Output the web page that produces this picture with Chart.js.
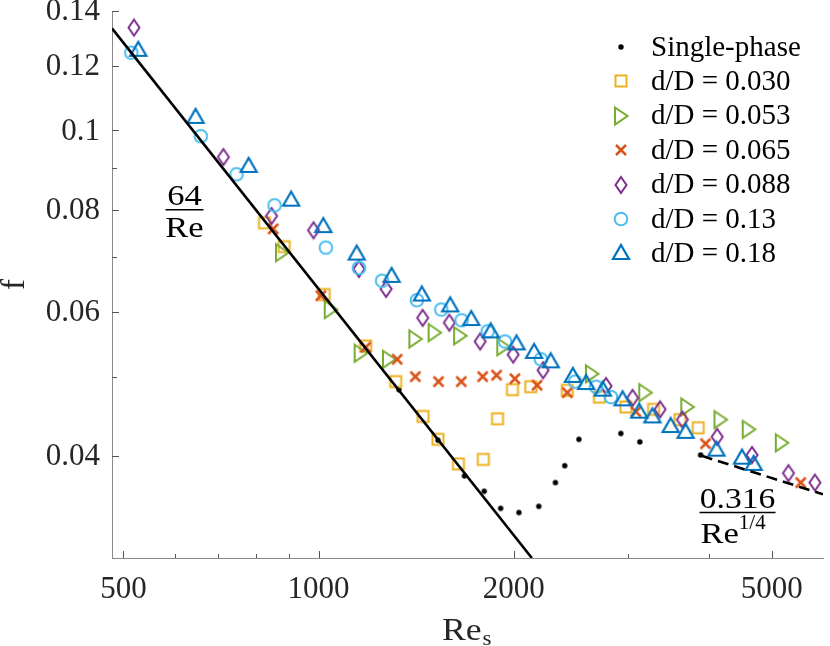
<!DOCTYPE html>
<html>
<head>
<meta charset="utf-8">
<script src="https://cdn.jsdelivr.net/npm/chart.js@4.4.1/dist/chart.umd.min.js"></script>
<style>
  html, body { margin: 0; padding: 0; background: #fff; }
  #wrap { width: 830px; height: 646px; }
</style>
</head>
<body>
<div id="wrap"><canvas id="fChart"></canvas></div>
<script>
// values (Re_s, f)
const singleRe = [1330, 1528, 1679, 1801, 1909, 2037, 2186, 2319, 2397, 2521, 2926, 3130, 3884];
const singleF  = [0.0482, 0.0418, 0.0378, 0.0362, 0.0345, 0.0341, 0.0347, 0.0371, 0.0389, 0.0419, 0.0426, 0.0416, 0.0401];

const d030Re = [825, 885, 1020, 1182, 1315, 1449, 1528, 1643, 1795, 1888, 1991, 2125, 2419, 2712, 2979, 3286, 3611, 3852];
const d030F  = [0.0771, 0.0721, 0.0630, 0.0545, 0.0493, 0.0447, 0.0419, 0.0391, 0.0396, 0.0444, 0.0482, 0.0486, 0.0481, 0.0472, 0.0459, 0.0456, 0.0443, 0.0433];

const d053Re = [878, 1044, 1161, 1284, 1410, 1510, 1653, 1927, 2640, 3191, 3705, 4168, 4608, 5183];
const d053F  = [0.0709, 0.0604, 0.0534, 0.0525, 0.0556, 0.0566, 0.0561, 0.0544, 0.0504, 0.0478, 0.0459, 0.0443, 0.0431, 0.0415];

const d065Re = [851, 1008, 1182, 1322, 1410, 1531, 1660, 1791, 1882, 2008, 2173, 2419, 3086, 3953, 5544];
const d065F  = [0.0758, 0.0628, 0.0543, 0.0525, 0.0500, 0.0493, 0.0493, 0.0500, 0.0502, 0.0497, 0.0488, 0.0478, 0.0453, 0.0414, 0.0371];

const d088Re = [519, 713, 846, 982, 1154, 1271, 1447, 1591, 1775, 1996, 2220, 2776, 3051, 3364, 3641, 4120, 4663, 5307, 5830];
const d088F  = [0.1336, 0.0928, 0.0786, 0.0755, 0.0677, 0.0640, 0.0590, 0.0582, 0.0552, 0.0532, 0.0509, 0.0487, 0.0471, 0.0456, 0.0443, 0.0422, 0.0401, 0.0381, 0.0371];

const d13Re = [514, 658, 747, 855, 1026, 1154, 1253, 1418, 1546, 1662, 1823, 1939, 2202, 2487, 2679, 2825];
const d13F  = [0.1245, 0.0984, 0.0884, 0.0810, 0.0719, 0.0679, 0.0655, 0.0620, 0.0604, 0.0586, 0.0568, 0.0552, 0.0525, 0.0493, 0.0486, 0.0472];

const d18Re = [527, 646, 780, 907, 1017, 1145, 1296, 1443, 1596, 1720, 1843, 2020, 2150, 2281, 2468, 2587, 2744, 2944, 3123, 3273, 3492, 3683, 4110, 4500, 4690];
const d18F  = [0.1255, 0.1039, 0.0905, 0.0823, 0.0764, 0.0707, 0.0664, 0.0630, 0.0611, 0.0588, 0.0568, 0.0549, 0.0536, 0.0522, 0.0501, 0.0491, 0.0482, 0.0469, 0.0453, 0.0447, 0.0435, 0.0428, 0.0407, 0.0398, 0.0391];

// reference lines, end points
const laminarRe = [480, 2133];
const laminarF  = [0.1333, 0.0300];
const blasiusRe = [3900, 6000];
const blasiusF  = [0.0400, 0.0359];

// axes
const xMajor = [500, 1000, 2000, 5000];
const xLabels = ['500', '1000', '2000', '5000'];
const xMinor = [600, 700, 800, 900, 3000, 4000];
const yMajor = [0.04, 0.06, 0.08, 0.1, 0.12, 0.14];
const yLabels = ['0.04', '0.06', '0.08', '0.1', '0.12', '0.14'];
const yMinor = [0.05, 0.07, 0.09];

const legendNames = ['Single-phase', 'd/D = 0.030', 'd/D = 0.053', 'd/D = 0.065', 'd/D = 0.088', 'd/D = 0.13', 'd/D = 0.18'];

// marker pictures (matlab style)
function marker(kind, color) {
  const c = document.createElement('canvas');
  c.width = 24; c.height = 24;
  const g = c.getContext('2d');
  const cx = 12, cy = 12;
  g.strokeStyle = color; g.fillStyle = color; g.lineWidth = 2;
  g.beginPath();
  if (kind === 'dot') {
    g.arc(cx, cy, 2.7, 0, Math.PI * 2); g.fill(); return c;
  }
  if (kind === 'square') g.rect(cx - 5.5, cy - 5.5, 11, 11);
  if (kind === 'right') { g.moveTo(cx - 6, cy - 8.5); g.lineTo(cx + 6.5, cy); g.lineTo(cx - 6, cy + 8.5); g.closePath(); }
  if (kind === 'cross') { g.lineWidth = 2.5; g.moveTo(cx - 5, cy - 5); g.lineTo(cx + 5, cy + 5); g.moveTo(cx + 5, cy - 5); g.lineTo(cx - 5, cy + 5); }
  if (kind === 'diamond') { g.moveTo(cx, cy - 8); g.lineTo(cx + 5.5, cy); g.lineTo(cx, cy + 8); g.lineTo(cx - 5.5, cy); g.closePath(); }
  if (kind === 'circle') g.arc(cx, cy, 6.3, 0, Math.PI * 2);
  if (kind === 'up') { g.lineWidth = 2.2; g.moveTo(cx, cy - 8); g.lineTo(cx + 8, cy + 6); g.lineTo(cx - 8, cy + 6); g.closePath(); }
  g.stroke();
  return c;
}

const markers = [
  marker('dot', '#000000'),
  marker('square', '#EDB120'),
  marker('right', '#77AC30'),
  marker('cross', '#D95319'),
  marker('diamond', '#7E2F8E'),
  marker('circle', '#4DBEEE'),
  marker('up', '#0072BD')
];

function pts(xs, ys) { return xs.map((v, i) => ({ x: v, y: ys[i] })); }

function serif(ctx, str, x, y, size, sx, align) {
  ctx.save();
  ctx.font = size + 'px "Liberation Serif", "Times New Roman", serif';
  ctx.translate(x, y);
  ctx.scale(sx, 1);
  ctx.textAlign = align || 'left';
  ctx.fillText(str, 0, 0);
  ctx.restore();
  ctx.font = size + 'px "Liberation Serif", serif';
  return ctx.measureText(str).width * sx;
}

const matlabAxes = {
  id: 'matlabAxes',
  afterDraw(chart) {
    const { ctx, chartArea: a, scales: { x, y } } = chart;
    ctx.save();
    // inward ticks
    ctx.strokeStyle = '#555';
    ctx.lineWidth = 1;
    ctx.beginPath();
    xMajor.forEach(v => { const p = Math.round(x.getPixelForValue(v)) + 0.5; ctx.moveTo(p, a.bottom); ctx.lineTo(p, a.bottom - 7); });
    xMinor.forEach(v => { const p = Math.round(x.getPixelForValue(v)) + 0.5; ctx.moveTo(p, a.bottom); ctx.lineTo(p, a.bottom - 4); });
    yMajor.forEach(v => { const p = Math.round(y.getPixelForValue(v)) + 0.5; ctx.moveTo(a.left, p); ctx.lineTo(a.left + 7, p); });
    yMinor.forEach(v => { const p = Math.round(y.getPixelForValue(v)) + 0.5; ctx.moveTo(a.left, p); ctx.lineTo(a.left + 5, p); });
    ctx.stroke();

    // tick labels
    ctx.fillStyle = '#262626';
    ctx.textBaseline = 'alphabetic';
    xMajor.forEach((v, i) => serif(ctx, xLabels[i], x.getPixelForValue(v), a.bottom + 40, 31, 1, 'center'));
    ctx.textBaseline = 'middle';
    yMajor.forEach((v, i) => serif(ctx, yLabels[i], a.left - 12, y.getPixelForValue(v) + 1, 31, 1, 'right'));

    // axis titles
    ctx.textBaseline = 'alphabetic';
    const w = serif(ctx, 'Re', 442, 640, 31, 1.15, 'left');
    serif(ctx, 's', 442 + w + 1, 645, 21, 1.1, 'left');
    ctx.save();
    ctx.translate(15, (a.top + a.bottom) / 2);
    ctx.rotate(-Math.PI / 2);
    ctx.textBaseline = 'middle';
    serif(ctx, 'f', 0, 0, 33, 1, 'center');
    ctx.restore();

    // 64/Re label
    ctx.fillStyle = '#000';
    ctx.strokeStyle = '#000';
    let fx = x.getPixelForValue(621), fy = y.getPixelForValue(0.080);
    serif(ctx, '64', fx, fy - 5, 30, 1.15, 'center');
    ctx.lineWidth = 1.6;
    ctx.beginPath(); ctx.moveTo(fx - 19, fy); ctx.lineTo(fx + 19, fy); ctx.stroke();
    serif(ctx, 'Re', fx, fy + 27, 30, 1.15, 'center');

    // 0.316/Re^(1/4) label
    fx = x.getPixelForValue(4429); fy = y.getPixelForValue(0.0341);
    serif(ctx, '0.316', fx, fy - 4.5, 30, 1.12, 'center');
    ctx.beginPath(); ctx.moveTo(fx - 38, fy); ctx.lineTo(fx + 38, fy); ctx.stroke();
    const rw = serif(ctx, 'Re', fx - 37, fy + 30, 30, 1.15, 'left');
    serif(ctx, '1/4', fx - 37 + rw, fy + 16, 20, 1.05, 'left');

    // legend
    ctx.fillStyle = '#000';
    ctx.textBaseline = 'middle';
    legendNames.forEach((name, i) => {
      const ry = a.top + 36 + i * 34.4;
      ctx.drawImage(markers[i], a.right - 214, Math.round(ry) - 12);
      serif(ctx, name, a.right - 172, ry + 1, 29, 1, 'left');
    });
    ctx.restore();
  }
};

const ctx = document.getElementById('fChart').getContext('2d');
const series = [
  [singleRe, singleF], [d030Re, d030F], [d053Re, d053F], [d065Re, d065F],
  [d088Re, d088F], [d13Re, d13F], [d18Re, d18F]
];

const datasets = series.map((s, i) => ({
  label: legendNames[i],
  data: pts(s[0], s[1]),
  pointStyle: markers[i],
  pointRadius: 6,
  order: 7 - i
}));
datasets.push({
  label: '64/Re', data: pts(laminarRe, laminarF), showLine: true,
  borderColor: '#000', borderWidth: 2.6, pointRadius: 0, order: 0
});
datasets.push({
  label: '0.316/Re^1/4', data: pts(blasiusRe, blasiusF), showLine: true,
  borderColor: '#000', borderWidth: 2.6, borderDash: [11, 6], pointRadius: 0, order: 0
});

let chart = new Chart(ctx, {
  type: 'scatter',
  data: { datasets: datasets },
  options: {
    responsive: true,
    maintainAspectRatio: false,
    animation: false,
    events: [],
    layout: { padding: { top: 11, right: 3, left: 0, bottom: 0 } },
    plugins: { legend: { display: false }, tooltip: { enabled: false } },
    scales: {
      x: {
        type: 'logarithmic', min: 480, max: 6000,
        ticks: { display: false },
        grid: { display: false },
        border: { display: true, color: '#8a8a8a', width: 1 },
        afterFit(s) { s.height = 88; }
      },
      y: {
        type: 'logarithmic', min: 0.03, max: 0.14,
        ticks: { display: false },
        grid: { display: false },
        border: { display: true, color: '#8a8a8a', width: 1 },
        afterFit(s) { s.width = 112; }
      }
    }
  },
  plugins: [matlabAxes]
});
</script>
</body>
</html>
